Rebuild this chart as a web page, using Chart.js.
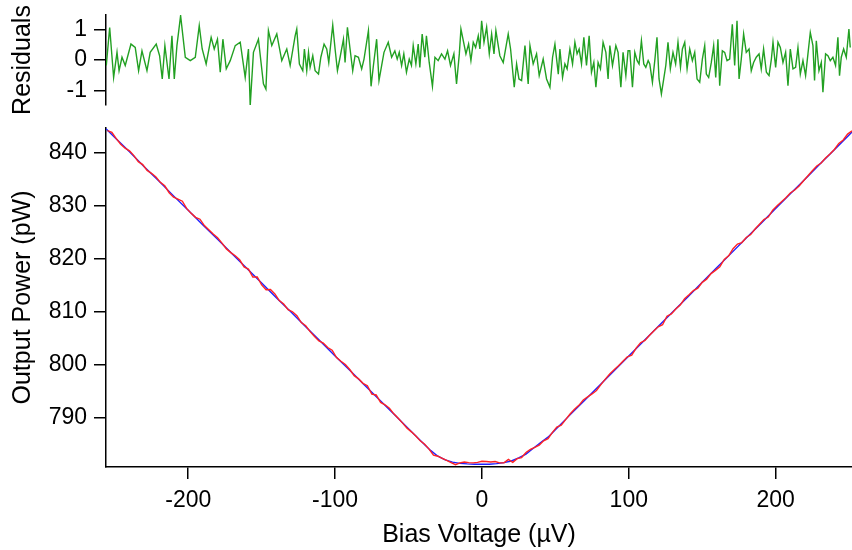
<!DOCTYPE html>
<html>
<head>
<meta charset="utf-8">
<script src="https://cdn.jsdelivr.net/npm/chart.js@4.4.0/dist/chart.umd.min.js"></script>
<style>
  body { margin: 0; background: #fff; }
  canvas { position: absolute; left: 0; top: 0; }
</style>
</head>
<body>
<canvas id="resChart" width="852" height="550"></canvas>
<canvas id="powerChart" width="852" height="550"></canvas>
<script>
// residuals (top panel)
const resV = [-255.8, -253.5, -250.8, -248.5, -247.1, -245.1, -242.9, -239.0, -236.1, -233.8, -231.5, -228.1, -225.9, -221.8, -219.5, -217.7, -215.9, -213.1, -211.1, -209.5, -207.7, -205.2, -202.0, -198.6, -195.2, -192.5, -190.5, -187.8, -184.4, -182.3, -180.1, -178.2, -176.4, -174.1, -171.4, -168.0, -164.6, -161.2, -159.0, -157.8, -155.6, -152.2, -148.8, -147.1, -145.4, -143.1, -139.7, -136.3, -132.9, -130.6, -127.2, -126.1, -124.3,
  -122.0, -120.9, -119.3, -118.1, -117.0, -115.2, -113.6, -111.3, -109.7, -107.5, -105.7, -104.3, -101.6, -100.0, -98.4, -96.6, -94.3, -93.2, -91.6, -89.8, -88.0, -86.4, -84.1, -81.9, -80.3, -77.3, -75.5, -73.9, -71.7, -70.1, -68.3, -66.7, -63.8, -61.5, -59.3, -57.7, -56.3, -54.7, -53.2, -51.4, -49.5, -48.0, -46.8, -45.0, -43.4, -42.3, -40.7, -38.9, -37.8, -35.9, -33.7, -32.0, -29.8, -27.5, -25.2, -23.4, -21.4, -19.1, -17.3, -15.4, -14.3, -12.7, -10.9, -9.1, -7.5, -5.9, -4.3, -2.5, -1.4, -0.2, 1.4, 3.2, 5.0, 6.6, 8.2, 9.5, 12.2, 14.5, 17.9, 19.5, 22.0, 23.6, 25.2, 27.0, 29.3, 31.5, 32.7, 34.9, 37.2, 39.0, 41.7, 44.0, 46.3, 48.1, 49.7, 52.0,
  53.1, 54.9, 56.5, 58.0, 59.9, 61.7, 63.3, 64.8, 66.2, 67.8, 69.4, 71.2, 73.0, 74.6, 76.2, 77.6, 79.1, 80.7, 82.5, 84.4, 85.9, 87.1, 88.9, 91.2, 92.7, 94.6, 96.1, 98.0, 99.5, 100.7, 102.5, 104.1, 105.7, 107.0, 108.6, 110.2, 111.6, 113.2, 114.3, 116.1, 117.7, 119.2, 120.6, 122.2, 123.8, 125.2, 126.7, 128.3, 130.1, 131.9, 133.5, 135.2, 136.5, 138.1, 139.7, 141.5, 143.3, 144.9, 146.5, 148.3, 150.1, 151.7, 152.8, 154.4, 156.2, 157.8, 159.2, 160.7, 161.9, 163.7, 165.3, 166.9, 168.7, 170.5, 172.1, 173.7, 175.1, 176.6, 178.2, 180.0, 181.9, 183.4, 185.0, 186.8, 188.7, 190.2, 191.8, 193.7, 195.5, 197.1, 198.2, 200.0, 201.6, 203.2, 205.0, 206.8, 208.4, 210.0, 211.8, 213.6, 215.2, 216.8, 218.6, 220.4, 222.0, 223.6, 225.4, 226.5, 227.7, 229.5, 231.1, 232.2, 234.0, 235.6, 237.2, 239.0, 240.8, 242.4, 243.5, 244.7, 246.3, 248.1, 249.9, 250.8];
const resR = [-0.18, 1.06, -0.57, 0.25, -0.35, 0.09, -0.18, 0.52, 0.41, -0.35, 0.30, -0.35, 0.25, 0.52, 0.14, -0.62, 0.47, -0.62, 0.79, -0.62, 0.47, 1.45, 0.09, -0.02, 0.09, 1.12, 0.36, -0.13, 0.74, 0.36, 0.68, -0.40, 0.68, -0.29, -0.02, 0.47, 0.58, -0.57, 0.36, -1.49, 0.25, 0.68, -0.78, -0.95, 0.96, 0.47, 0.85, -0.02, 0.36, -0.18, 0.79, 1.01, -0.13,
  -0.35, 0.36, -0.35, 0.25, -0.24, 0.14, -0.35, -0.46, 0.09, 0.52, 0.36, -0.08, 1.14, 0.36, -0.35, 0.09, 0.68, -0.08, 1.07, 0.36, -0.35, 0.14, 0.09, -0.29, 0.03, 0.96, -0.86, -0.18, 0.68, -0.67, -0.18, 0.25, 0.58, 0.09, 0.30, 0.03, 0.25, -0.18, 0.20, -0.40, 0.03, -0.18, 0.47, -0.13, 0.52, -0.24, 0.85, 0.09, 0.79, -0.08, -0.86, 0.09, -0.02, 0.20, 0.03, 0.30, -0.18, 0.20, -0.78, 0.20, 1.01, 0.63, 0.20, 0.52, -0.02, 0.58, 0.41, 0.79, 0.36, 1.28, 0.58, 1.07, 0.20, 0.85, 0.20, 0.96, 0.14, -0.08, 0.85, 0.36, -0.89, -0.13, -0.62, -0.67, 0.47, -0.78, 0.47, -0.13, 0.20, -0.51, 0.03, -0.62, -0.89, 0.09, 0.52, -0.46,
  0.36, -0.57, -0.13, -0.29, 0.36, -0.13, 0.58, 0.20, 0.36, -0.13, 0.74, -0.18, 0.79, -0.40, -0.08, -0.89, -0.08, -0.29, 0.58, 0.25, -0.62, 0.47, -0.18, 0.47, 0.25, -0.89, 0.25, -0.51, 0.30, 0.30, -0.89, 0.25, -0.02, -0.13, 0.63, -0.13, -0.24, -0.02, -0.13, -0.73, -0.02, 0.74, -0.62, -1.11, -0.62, -0.18, 0.58, -0.29, 0.25, -0.13, 0.58, -0.24, 0.36, 0.58, -0.29, 0.36, -0.02, 0.25, -0.62, -0.73, 0.03, 0.47, -0.46, -0.57, -0.08, 0.47, -0.57, 0.68, -0.84, 0.30, 0.25, -0.02, 0.03, 1.17, -0.18, 1.28, -0.62, 0.03, 0.85, 0.25, 0.36, -0.35, -0.08, 0.09, 0.20, -0.29, 0.36, -0.40, -0.51, 0.03, 0.58, -0.24, 0.58, 0.41, -0.08, 0.25, -0.84, 0.36, -0.29, -0.24, 0.41, -0.46, -0.02, -0.51, 0.20, 0.90, 0.47, -0.67, 0.63, -0.35, -0.08, -1.05, 0.20, 0.14, -0.02, 0.09, -0.18, 0.74, -0.51, 0.09, 0.36, 0.09, 1.01, 0.41];

// measured output power (red)
const dataV = [-255, -252, -249, -246, -243, -240, -237, -234, -231, -228, -225, -222, -219, -216, -213, -210, -207, -204, -201, -198, -195, -192, -189, -186, -183, -180, -177, -174, -171, -168, -165, -162, -159, -156, -153, -150, -147, -144, -141, -138, -135, -132, -129, -126, -123, -120, -117, -114, -111, -108, -105, -102, -99, -96, -93, -90, -87, -84, -81, -78, -75, -72, -69, -66, -63, -60, -57, -54, -51, -48, -45, -42, -39, -36, -33, -30, -27, -24, -21, -18, -15, -12, -9, -6, -3, 0, 3, 6, 9, 12, 15, 18, 21, 24, 27, 30, 33, 36, 39, 42, 45, 48, 51, 54, 57, 60, 63, 66, 69, 72, 75, 78, 81, 84, 87, 90, 93, 96, 99, 102, 105, 108, 111, 114, 117, 120, 123, 126, 129, 132, 135, 138, 141, 144, 147, 150, 153, 156, 159, 162, 165, 168, 171, 174, 177, 180, 183, 186, 189, 192, 195, 198, 201, 204, 207, 210, 213, 216, 219, 222, 225, 228, 231, 234, 237, 240, 243, 246, 249, 252];
const dataP = [844.1, 843.8, 842.6, 841.55, 840.8, 840.3, 839.4, 838.25, 837.7, 836.6,
  836.05, 835.35, 834.35, 833.7, 832.4, 831.55, 831.2, 830.8, 829.4, 828.5,
  827.75, 827.4, 826.2, 825.4, 824.6, 823.9, 822.9, 821.8, 821.1, 820.5,
  819.75, 818.4, 818.0, 816.5, 816.5, 815.0, 814.1, 814.15, 813.3, 812.05,
  811.4, 810.35, 809.95, 809.2, 807.9, 807.3, 806.2, 805.3, 804.45, 804.05,
  803.2, 802.7, 801.3, 800.6, 800.0, 799.05, 797.9, 797.3, 796.45, 796.0,
  794.4, 794.25, 792.85, 792.4, 791.75, 790.7, 789.85, 788.95, 788.0, 787.3,
  786.5, 785.6, 784.95, 784.05, 782.9, 782.7, 782.3, 781.9, 781.5, 781.1,
  781.45, 781.6, 781.5, 781.45, 781.55, 781.75, 781.7, 781.6, 781.7, 781.45,
  781.45, 782.1, 781.55, 782.25, 782.45, 783.4, 784.0, 784.35, 784.8, 785.6,
  786.0, 787.2, 788.2, 788.55, 789.6, 790.65, 791.55, 792.3, 793.3, 793.9,
  794.45, 795.1, 796.2, 797.25, 798.2, 799.0, 799.75, 800.6, 801.45, 801.75,
  803.1, 804.1, 804.55, 805.45, 806.3, 807.1, 807.5, 809.1, 809.55, 810.45,
  811.2, 812.4, 813.15, 813.95, 814.4, 815.5, 816.1, 817.15, 817.75, 818.45,
  819.8, 820.5, 821.85, 822.7, 823.0, 823.95, 824.5, 825.55, 826.45, 827.35,
  827.8, 829.1, 829.95, 830.7, 831.45, 832.35, 832.9, 833.65, 834.65, 835.6,
  836.55, 837.45, 838.0, 838.95, 839.7, 840.55, 841.7, 842.35, 843.45, 844.05];

// fitted curve (blue)
const fitV = [-256, -250, -240, -230, -220, -210, -200, -190, -180, -170, -160, -150, -140, -130, -120, -110, -100, -90, -80, -70, -60, -50, -40, -35, -30, -25, -20, -15, -10, -5, 0, 5, 10, 15, 20, 25, 30, 35, 40, 45, 50, 60, 70, 80, 90, 100, 110, 120, 130, 140, 150, 160, 170, 180, 190, 200, 210, 220, 230, 240, 250, 252];
const fitP = [844.45, 842.8, 840.1, 837.3, 834.6, 831.8, 829.1, 826.3, 823.6, 820.85, 818.1, 815.35, 812.6, 809.9, 807.1, 804.4, 801.6, 798.9, 796.15, 793.4, 790.65, 787.9, 785.15, 783.8, 782.7, 782.0, 781.6, 781.35, 781.25, 781.2, 781.2, 781.2, 781.3, 781.5, 781.8, 782.4, 783.1, 784.2, 785.3, 786.3, 787.7, 790.5, 793.25, 796.05, 798.8, 801.6, 804.4, 807.15, 809.95, 812.7, 815.5, 818.3, 821.05, 823.85, 826.6, 829.4, 832.2, 834.95, 837.75, 840.5, 843.3, 843.85];

const xTicks = [-200, -100, 0, 100, 200];
const powerTicks = [790, 800, 810, 820, 830, 840];
const resTicks = [-1, 0, 1];

Chart.defaults.font.family = '"Liberation Sans", Arial, sans-serif';
Chart.defaults.color = '#000';

const toXY = (xs, ys) => xs.map((x, i) => ({ x: x, y: ys[i] }));

function yAxis(min, max, ticks, title) {
    return {
        type: 'linear',
        min: min,
        max: max,
        afterBuildTicks: s => { s.ticks = ticks.map(v => ({ value: v })); },
        afterFit: s => { s.width = 106; s.paddingTop = 0; s.paddingBottom = 0; },
        border: { color: '#000', width: 1.5 },
        grid: { drawOnChartArea: false, tickLength: 12, color: '#000', lineWidth: 1.5 },
        ticks: { font: { size: 23 }, padding: 7, color: '#000' },
        title: { display: true, text: title, font: { size: 25 }, padding: { top: 8, bottom: 0 }, color: '#000' }
    };
}

new Chart(document.getElementById('resChart'), {
    type: 'line',
    data: {
        datasets: [{
            data: toXY(resV, resR),
            borderColor: 'rgb(34,160,34)',
            borderWidth: 1.4,
            pointRadius: 0,
            tension: 0
        }]
    },
    options: {
        responsive: false,
        animation: false,
        layout: { padding: { top: 15, bottom: 445, left: 0, right: 0 } },
        plugins: { legend: { display: false }, tooltip: { enabled: false } },
        scales: {
            x: { type: 'linear', min: -256, max: 252, display: false },
            y: yAxis(-1.47, 1.47, resTicks, 'Residuals')
        }
    }
});

new Chart(document.getElementById('powerChart'), {
    type: 'line',
    data: {
        datasets: [
            {
                data: toXY(dataV, dataP),
                borderColor: 'rgb(255,35,35)',
                borderWidth: 1.4,
                pointRadius: 0,
                tension: 0
            },
            {
                data: toXY(fitV, fitP),
                borderColor: 'rgb(30,30,255)',
                borderWidth: 1.4,
                pointRadius: 0,
                tension: 0
            }
        ]
    },
    options: {
        responsive: false,
        animation: false,
        layout: { padding: { top: 128, bottom: 0, left: 0, right: 0 } },
        plugins: { legend: { display: false }, tooltip: { enabled: false } },
        scales: {
            x: {
                type: 'linear',
                min: -256,
                max: 252,
                afterBuildTicks: s => { s.ticks = xTicks.map(v => ({ value: v })); },
                afterFit: s => { s.height = 83; s.paddingLeft = 0; s.paddingRight = 0; },
                border: { color: '#000', width: 1.5 },
                grid: { drawOnChartArea: false, tickLength: 12, color: '#000', lineWidth: 1.5 },
                ticks: { font: { size: 23 }, padding: 8, color: '#000', maxRotation: 0 },
                title: { display: true, text: 'Bias Voltage (µV)', font: { size: 25 }, padding: { top: 0, bottom: 0 }, color: '#000' }
            },
            y: yAxis(780.67, 844.6, powerTicks, 'Output Power (pW)')
        }
    }
});
</script>
</body>
</html>
